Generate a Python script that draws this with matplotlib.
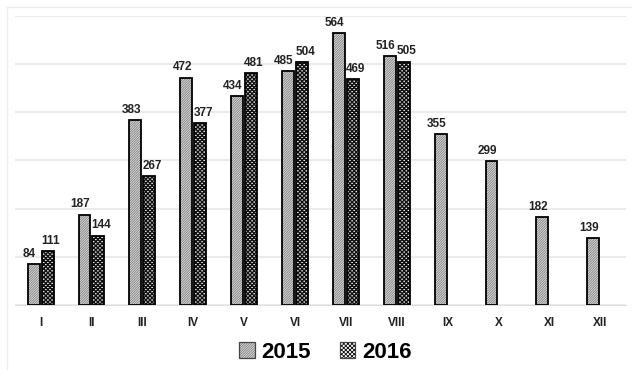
import numpy as np
import matplotlib.pyplot as plt
from matplotlib.patches import Patch
from matplotlib.legend_handler import HandlerTuple

months = ['I', 'II', 'III', 'IV', 'V', 'VI', 'VII', 'VIII', 'IX', 'X', 'XI', 'XII']
sales_2015 = [84, 187, 383, 472, 434, 485, 564, 516, 355, 299, 182, 139]
sales_2016 = [111, 144, 267, 377, 481, 504, 469, 505]

plt.rcParams['font.family'] = ['Liberation Sans', 'DejaVu Sans']

fig = plt.figure(figsize=(6.32, 3.70), dpi=100)
ax = fig.add_axes([0.024, 0.176, 0.966, 0.781])

x = np.arange(len(months))
w = 0.235
gap = 0.02
x15 = x - w / 2 - gap
x16 = x[:len(sales_2016)] + w / 2 + gap

hatch_15 = '/' * 14
hatch_16 = 'x' * 8

# hatched fill first, then a black outline on top
plt.rcParams['hatch.linewidth'] = 0.6
ax.bar(x15, sales_2015, w, color='#e2e2e2', hatch=hatch_15, edgecolor='#7c7c7c', linewidth=0, zorder=2)
plt.rcParams['hatch.linewidth'] = 1.1
ax.bar(x16, sales_2016, w, color='white', hatch=hatch_16, edgecolor='#111111', linewidth=0, zorder=2)

ax.bar(x15, sales_2015, w, fill=False, edgecolor='black', linewidth=1.3, zorder=3)
ax.bar(x16, sales_2016, w, fill=False, edgecolor='black', linewidth=1.3, zorder=3)

for xi, v in zip(x15, sales_2015):
    ax.text(xi - 0.08, v + 9, str(v), ha='center', va='bottom', fontsize=8.5, fontweight='bold', color='#222222')
for xi, v in zip(x16, sales_2016):
    ax.text(xi + 0.06, v + 9, str(v), ha='center', va='bottom', fontsize=8.5, fontweight='bold', color='#222222')

ax.set_xlim(-0.5, len(months) - 0.5)
ax.set_ylim(0, 600)
ax.set_yticks(np.arange(0, 601, 100))
ax.yaxis.grid(True, color='#e8e8e8', linewidth=1.2, zorder=0)
ax.set_axisbelow(True)
ax.tick_params(axis='y', left=False, labelleft=False)
ax.tick_params(axis='x', length=0, pad=9)
ax.set_xticks(x)
ax.set_xticklabels(months, fontsize=8.5, fontweight='bold', color='#222222')
for s in ['top', 'right', 'left']:
    ax.spines[s].set_visible(False)
ax.spines['bottom'].set_color('#dedede')

# legend keys: hatched square with a thin dark outline
plt.rcParams['hatch.linewidth'] = 0.6
key15 = Patch(facecolor='#e2e2e2', edgecolor='#7c7c7c', hatch=hatch_15, linewidth=0)
key16 = Patch(facecolor='white', edgecolor='#111111', hatch=hatch_16, linewidth=0)
frame = Patch(fill=False, edgecolor='#444444', linewidth=0.9)
leg = fig.legend([(key15, frame), (key16, frame)], ['2015', '2016'], loc='center',
                 bbox_to_anchor=(0.515, 0.048), ncol=2, frameon=False,
                 prop={'size': 16, 'weight': 'bold'},
                 handler_map={tuple: HandlerTuple(ndivide=1)},
                 handlelength=0.7, handleheight=0.7, handletextpad=0.3, columnspacing=1.3)

fig.add_artist(plt.Rectangle((0.011, -0.1), 1.2, 1.08, transform=fig.transFigure,
                             fill=False, edgecolor='#ececec', linewidth=1))

fig.savefig('out.png', dpi=100)
